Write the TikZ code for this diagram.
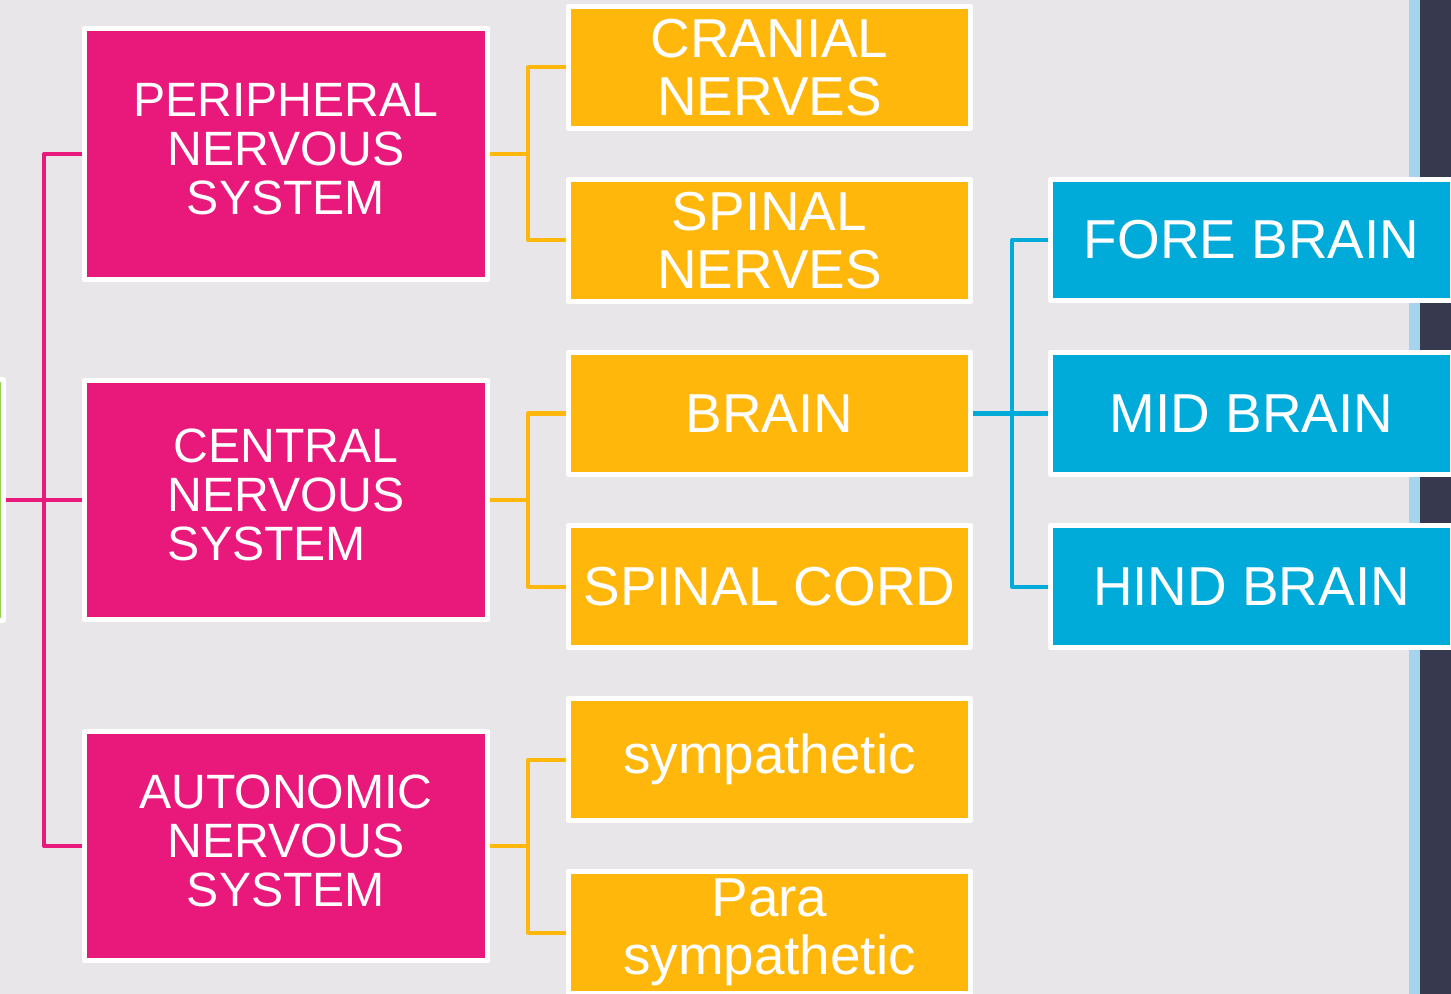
\documentclass[tikz,border=0pt]{standalone}
\usepackage{fontspec}
\setmainfont{Liberation Sans}
\definecolor{bggrey}{RGB}{232,230,233}
\definecolor{nspink}{RGB}{233,24,123}
\definecolor{nsorange}{RGB}{255,183,12}
\definecolor{nsblue}{RGB}{0,171,218}
\definecolor{nsgreen}{RGB}{146,208,80}
\definecolor{striplight}{RGB}{166,212,236}
\definecolor{stripdark}{RGB}{55,58,78}
\begin{document}
\begin{tikzpicture}[x=0.01cm,y=-0.01cm,
    box/.style={draw=white, line width=0.05cm, line join=round, inner sep=0pt, align=center, text=white},
    pinkbox/.style={box, fill=nspink, minimum width=4.03cm, text depth=0.1cm, font=\fontsize{13.7}{13.9}\selectfont},
    orangebox/.style={box, fill=nsorange, minimum width=4.02cm, minimum height=1.22cm, font=\fontsize{15.6}{16.5}\selectfont},
    bluebox/.style={box, fill=nsblue, minimum width=4.02cm, minimum height=1.21cm, font=\fontsize{15.6}{16.5}\selectfont},
    link/.style={line width=0.04cm, line join=round}]
        \useasboundingbox (0,0) rectangle (1451,994);
        \clip (0,0) rectangle (1451,994);
        \fill[bggrey] (0,0) rectangle (1451,994);
        \fill[striplight] (1409,0) rectangle (1420,994);
        \fill[stripdark] (1420,0) rectangle (1451,994);

        % nervous system and its three parts
        \node[box, fill=nsgreen, minimum width=2.47cm, minimum height=2.40cm] (root) at (-120,500) {};
        \node[pinkbox, minimum height=2.51cm] (pns) at (286,154) {PERIPHERAL\\NERVOUS\\SYSTEM};
        \node[pinkbox, minimum height=2.39cm] (cns) at (286,500) {CENTRAL\\NERVOUS\\SYSTEM\hspace*{0.38cm}};
        \node[pinkbox, minimum height=2.29cm] (ans) at (286,846) {AUTONOMIC\\NERVOUS\\SYSTEM};

        \node[orangebox] (cranial) at (769.5,67.5) {CRANIAL\\NERVES};
        \node[orangebox] (spinalnerves) at (769.5,240.5) {SPINAL\\NERVES};
        \node[orangebox] (brain) at (769.5,413.5) {BRAIN};
        \node[orangebox] (cord) at (769.5,586.5) {SPINAL CORD};
        \node[orangebox] (symp) at (769.5,759.5) {sympathetic};
        \node[orangebox] (para) at (769.5,932.5) {Para\\sympathetic};

        \node[bluebox] (fore) at (1251.5,240) {FORE BRAIN};
        \node[bluebox] (mid) at (1251.5,413.5) {MID BRAIN};
        \node[bluebox] (hind) at (1251.5,586.5) {HIND BRAIN};

        \coordinate (ptrunk) at (44,0);
        \coordinate (otrunk) at (528,0);
        \coordinate (btrunk) at (1012,0);

        \draw[link, nspink] (root.east) -- (cns.west);
        \draw[link, nspink] (pns.west) -- (pns.west -| ptrunk) -- (ans.west -| ptrunk) -- (ans.west);

        \foreach \sys/\ca/\cb in {pns/cranial/spinalnerves, cns/brain/cord, ans/symp/para} {
            \draw[link, nsorange] (\sys.east) -- (\sys.east -| otrunk);
            \draw[link, nsorange] (\ca.west) -- (\ca.west -| otrunk) -- (\cb.west -| otrunk) -- (\cb.west);
        }

        \draw[link, nsblue] (brain.east) -- (mid.west);
        \draw[link, nsblue] (fore.west) -- (fore.west -| btrunk) -- (hind.west -| btrunk) -- (hind.west);
\end{tikzpicture}
\end{document}
